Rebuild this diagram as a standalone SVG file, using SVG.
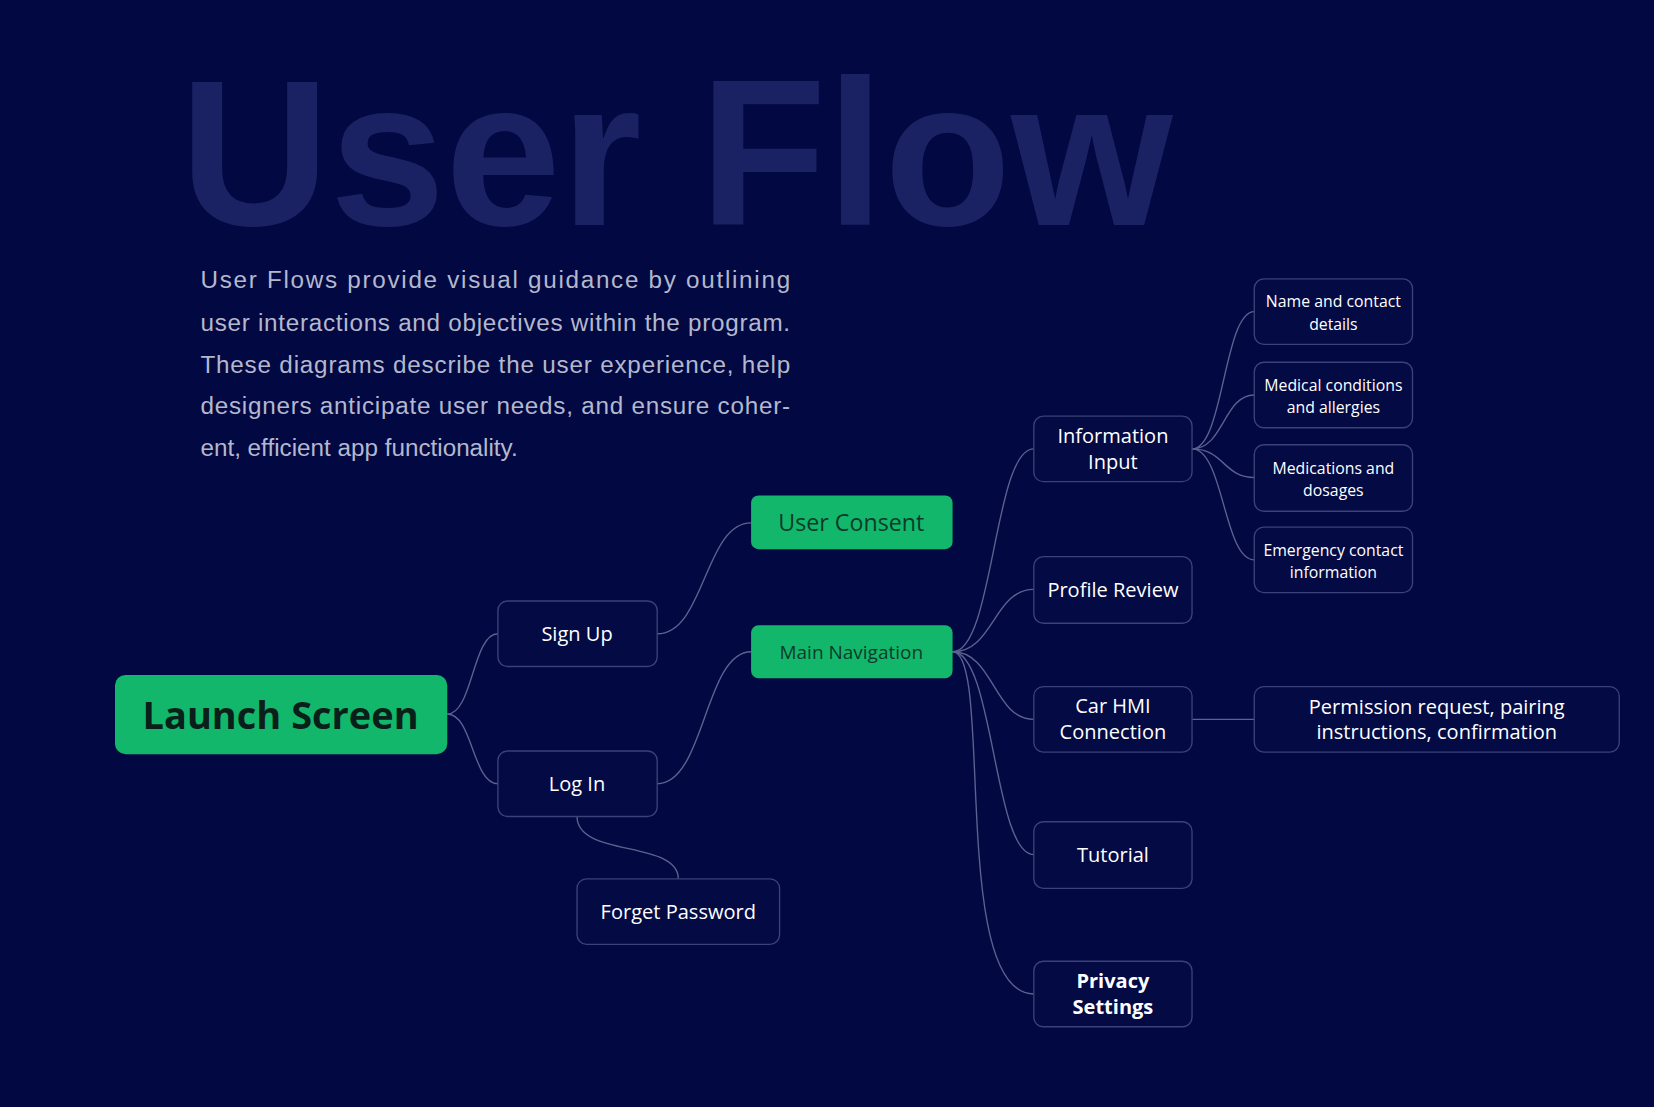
<svg xmlns="http://www.w3.org/2000/svg" width="1654" height="1107" viewBox="0 0 1654 1107">
<style>
.n rect{fill:#030a44;stroke:#3b4277;stroke-width:1.3}
.g rect{fill:#13b76b;stroke:none}
text{font-family:"Open Sans","Liberation Sans",sans-serif;text-anchor:middle;fill:#ffffff}
text.p{font-family:"Liberation Sans",Arial,sans-serif;font-size:23px;fill:#b4b8cc;text-anchor:start}
.s{font-size:15px}
.m{font-size:19px}
.c path{fill:none;stroke:#5c628f;stroke-width:1.3}
</style>
<rect width="1654" height="1107" fill="#020842"/>
<g transform="scale(1.0549,1.0563)">
<text x="641" y="213" style="font-family:'Liberation Sans',Arial,sans-serif;font-weight:bold;font-size:197px;fill:#1b2263">User Flow</text>
<text class="p" x="190" y="273" textLength="559" lengthAdjust="spacing">User Flows provide visual guidance by outlining</text>
<text class="p" x="190" y="313" textLength="559" lengthAdjust="spacing">user interactions and objectives within the program.</text>
<text class="p" x="190" y="353" textLength="559" lengthAdjust="spacing">These diagrams describe the user experience, help</text>
<text class="p" x="190" y="392" textLength="559" lengthAdjust="spacing">designers anticipate user needs, and ensure coher-</text>
<text class="p" x="190" y="432">ent, efficient app functionality.</text>
<g class="c" id="connectors">
<path d="M424,676 C448,676 448,600 472,600"/>
<path d="M424,676 C448,676 448,742 472,742"/>
<path d="M623,600 C668,600 668,495 712,495"/>
<path d="M623,742 C668,742 668,617 712,617"/>
<path d="M547,773 C547,812 643,795 643,832"/>
<path d="M903,617 C942,617 942,425 980,425"/>
<path d="M903,617 C942,617 942,558 980,558"/>
<path d="M903,617 C942,617 942,681 980,681"/>
<path d="M903,617 C942,617 942,809 980,809"/>
<path d="M903,617 C942,617 900,941 980,941"/>
<path d="M1130,425 C1160,425 1160,295 1189,295"/>
<path d="M1130,425 C1160,425 1160,374 1189,374"/>
<path d="M1130,425 C1160,425 1160,452 1189,452"/>
<path d="M1130,425 C1160,425 1160,530 1189,530"/>
<path d="M1130,681 L1189,681"/>
</g>
<g id="launch" class="g"><rect x="109" y="639" width="315" height="75" rx="10"/><text x="266" y="690" style="font-size:36px;font-weight:bold;fill:#0a1f1a">Launch Screen</text></g>
<g id="signup" class="n"><rect x="472" y="569" width="151" height="62" rx="9"/><text x="547" y="607" class="m">Sign Up</text></g>
<g id="login" class="n"><rect x="472" y="711" width="151" height="62" rx="9"/><text x="547" y="749" class="m">Log In</text></g>
<g id="consent" class="g"><rect x="712" y="469" width="191" height="51" rx="7"/><text x="807" y="503" style="font-size:22px;fill:#0c3b2a">User Consent</text></g>
<g id="mainnav" class="g"><rect x="712" y="592" width="191" height="50" rx="7"/><text x="807" y="624" style="font-size:18px;fill:#0c3b2a">Main Navigation</text></g>
<g id="forget" class="n"><rect x="547" y="832" width="192" height="62" rx="9"/><text x="643" y="870" class="m">Forget Password</text></g>
<g id="info" class="n"><rect x="980" y="394" width="150" height="62" rx="9"/><text x="1055" y="419" class="m">Information</text><text x="1055" y="444" class="m">Input</text></g>
<g id="profile" class="n"><rect x="980" y="527" width="150" height="63" rx="9"/><text x="1055" y="565" class="m">Profile Review</text></g>
<g id="car" class="n"><rect x="980" y="650" width="150" height="62" rx="9"/><text x="1055" y="675" class="m">Car HMI</text><text x="1055" y="700" class="m">Connection</text></g>
<g id="tutorial" class="n"><rect x="980" y="778" width="150" height="63" rx="9"/><text x="1055" y="816" class="m">Tutorial</text></g>
<g id="privacy" class="n"><rect x="980" y="910" width="150" height="62" rx="9"/><text x="1055" y="935" class="m" font-weight="bold">Privacy</text><text x="1055" y="960" class="m" font-weight="bold">Settings</text></g>
<g id="name" class="n"><rect x="1189" y="264" width="150" height="62" rx="9"/><text x="1264" y="291" class="s">Name and contact</text><text x="1264" y="312" class="s">details</text></g>
<g id="medical" class="n"><rect x="1189" y="343" width="150" height="62" rx="9"/><text x="1264" y="370" class="s">Medical conditions</text><text x="1264" y="391" class="s">and allergies</text></g>
<g id="meds" class="n"><rect x="1189" y="421" width="150" height="63" rx="9"/><text x="1264" y="449" class="s">Medications and</text><text x="1264" y="470" class="s">dosages</text></g>
<g id="emergency" class="n"><rect x="1189" y="499" width="150" height="62" rx="9"/><text x="1264" y="526" class="s">Emergency contact</text><text x="1264" y="547" class="s">information</text></g>
<g id="permission" class="n"><rect x="1189" y="650" width="346" height="62" rx="9"/><text x="1362" y="676" class="m">Permission request, pairing</text><text x="1362" y="700" class="m">instructions, confirmation</text></g>
</g>
</svg>
